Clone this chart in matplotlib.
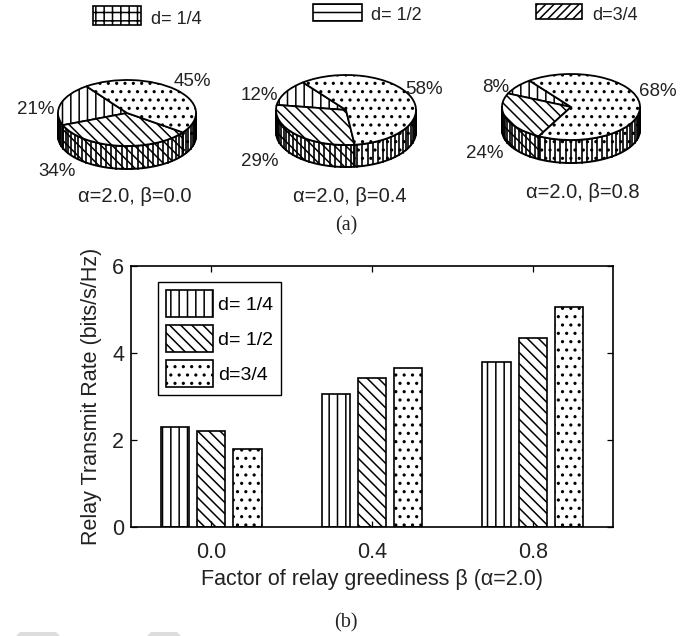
import numpy as np
import matplotlib
matplotlib.use("Agg")
import matplotlib.pyplot as plt
from matplotlib.patches import Rectangle, Polygon

plt.rcParams['font.family'] = ['Liberation Sans', 'DejaVu Sans']
plt.rcParams['hatch.linewidth'] = 1.1

W, H = 695, 636

# pie data, order is d=1/4, d=1/2, d=3/4
pie_shares = [[21, 34, 45], [12, 29, 58], [8, 24, 68]]
pie_captions = ["α=2.0, β=0.0", "α=2.0, β=0.4", "α=2.0, β=0.8"]
pie_starts = [126, 128, 127]

# bar data
betas = ["0.0", "0.4", "0.8"]
rate_14 = [2.3, 3.05, 3.8]
rate_12 = [2.2, 3.42, 4.35]
rate_34 = [1.8, 3.65, 5.05]
d_labels = ["d= 1/4", "d= 1/2", "d=3/4"]
bar_hatch = ['||', '\\\\\\', '..']

fig = plt.figure(figsize=(W / 100, H / 100), dpi=100)

# overlay in pixel coords for loose texts and the top legend
bg = fig.add_axes([0, 0, 1, 1])
bg.set_xlim(0, W)
bg.set_ylim(H, 0)
bg.axis('off')


def pie3(shares, start, cx, cy, rx, ry, depth):
    pad = 1.02
    d = depth / ry
    ax = fig.add_axes([(cx - pad * rx) / W, 1 - (cy + pad * ry + depth) / H,
                       2 * pad * rx / W, (2 * pad * ry + depth) / H])
    wedges, _ = ax.pie(shares, startangle=start, radius=1, hatch=bar_hatch,
                       wedgeprops=dict(facecolor='white', edgecolor='black', linewidth=1.3))
    ax.set_aspect('auto')
    ax.set_xlim(-pad, pad)
    ax.set_ylim(-pad - d, pad)
    ax.patch.set_alpha(0)
    # side wall, only the front half of the rim shows
    fr = np.array(shares) / np.sum(shares) * 360
    a0 = start
    for v, h in zip(fr, bar_hatch):
        a1 = a0 + v
        t = np.radians(np.arange(a0, a1 + 0.5, 1.0))
        t = t[np.sin(t) <= 0]
        if len(t) > 1:
            x, y = np.cos(t), np.sin(t)
            pts = np.r_[np.c_[x, y], np.c_[x[::-1], y[::-1] - d]]
            ax.add_patch(Polygon(pts, closed=True, fc='white', ec='black', lw=1.4, hatch=h, zorder=0))
        a0 = a1
    # facet lines on the wall, they bunch up at both ends
    for a in np.arange(180, 360.1, 4.5):
        x, y = np.cos(np.radians(a)), np.sin(np.radians(a))
        ax.plot([x, x], [y, y - d], color='black', lw=1.2, zorder=0.5)
    return ax


pie3(pie_shares[0], pie_starts[0], 127, 113, 69, 33, 23)
pie3(pie_shares[1], pie_starts[1], 346, 110, 70, 35, 22)
pie3(pie_shares[2], pie_starts[2], 571, 107, 69, 33, 23)

# percent labels: positions per pie for d=1/4, d=1/2, d=3/4
label_xy = [[(36, 109), (57, 171), (192, 81)],
            [(259, 96), (260, 162), (424, 89)],
            [(496, 88), (485, 153), (658, 92)]]
for shares, xy in zip(pie_shares, label_xy):
    for v, (x, y) in zip(shares, xy):
        bg.text(x, y, f"{v}%", fontsize=13.5, ha='center', va='center', color='#222222')

for cap, (x, y) in zip(pie_captions, [(135, 197), (350, 196), (583, 193)]):
    bg.text(x, y, cap, fontsize=14.5, ha='center', va='center', color='#222222')

bg.text(346, 226, "(a)", fontsize=14.5, family='Liberation Serif', ha='center', va='center', color='#222222')
bg.text(346, 623, "(b)", fontsize=14.5, family='Liberation Serif', ha='center', va='center', color='#222222')

# top legend
top_hatch = ['++', '--', '////']
top_box = [(93, 6, 48, 19), (313, 4, 49, 17), (536, 4, 46, 15)]
top_text = [(151, 20), (371, 16), (592, 15)]
for lab, h, (x, y, w, hh), (tx, ty) in zip(d_labels, top_hatch, top_box, top_text):
    bg.add_patch(Rectangle((x, y), w, hh, fc='white', ec='black', lw=1.2, hatch=h))
    bg.text(tx, ty, lab, fontsize=13, ha='left', va='center', color='#222222')

# grey scraps at the bottom edge of the scan
bg.add_patch(Polygon([(16, 636), (20, 632), (56, 632), (60, 636)], fc='#dddddd', ec='none'))
bg.add_patch(Polygon([(147, 636), (151, 632), (177, 632), (181, 636)], fc='#dddddd', ec='none'))

# bar chart
ax = fig.add_axes([131 / W, 1 - 527 / H, (613 - 131) / W, (527 - 266) / H])
x = np.arange(1, 4)
w = 0.175
off = 0.225
for i, (vals, h, lab) in enumerate(zip([rate_14, rate_12, rate_34], bar_hatch, d_labels)):
    ax.bar(x + (i - 1) * off, vals, w, fc='white', ec='black', lw=1.2, hatch=h, label=lab)
ax.set_xlim(0.5, 3.5)
ax.set_ylim(0, 6)
ax.set_xticks(x)
ax.set_xticklabels(betas)
ax.set_yticks([0, 2, 4, 6])
ax.tick_params(direction='in', top=True, right=True, length=4, width=0.9, labelsize=15.5,
               labelcolor='#222222')
ax.tick_params(axis='x', pad=11)
ax.tick_params(axis='y', pad=5)
for s in ax.spines.values():
    s.set_linewidth(1.2)
ax.set_xlabel("Factor of relay greediness β (α=2.0)", fontsize=15.5, color='#222222', labelpad=4)
ax.set_ylabel("Relay Transmit Rate (bits/s/Hz)", fontsize=15.5, color='#222222', labelpad=7)
leg = ax.legend(loc='upper left', bbox_to_anchor=((158 - 131) / 482, (527 - 282) / 261), borderaxespad=0,
                fontsize=14, fancybox=False, framealpha=1, edgecolor='black',
                handlelength=2.43, handleheight=1.75, labelspacing=0.42, handletextpad=0.22, borderpad=0.42)
leg.get_frame().set_linewidth(1.0)

fig.savefig("out.png", dpi=100)
